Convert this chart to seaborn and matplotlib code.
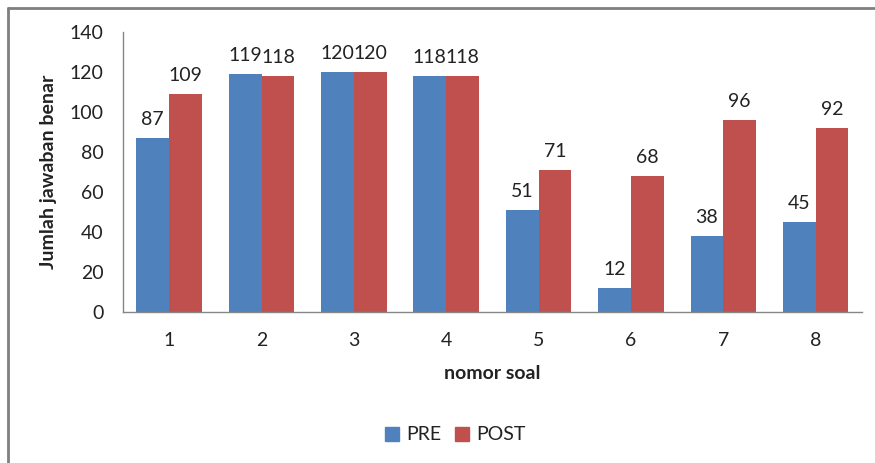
import matplotlib
matplotlib.use("Agg")
import matplotlib.pyplot as plt
import seaborn as sns
import pandas as pd
from matplotlib.lines import Line2D

soal = ["1", "2", "3", "4", "5", "6", "7", "8"]
pre = [87, 119, 120, 118, 51, 12, 38, 45]
post = [109, 118, 120, 118, 71, 68, 96, 92]
series = ["PRE", "POST"]
colors = ["#4F81BD", "#C0504D"]
y_ticks = [0, 20, 40, 60, 80, 100, 120, 140]

df = pd.DataFrame({
    "soal": soal * 2,
    "nilai": pre + post,
    "tes": [series[0]] * len(soal) + [series[1]] * len(soal),
})

sns.set_theme(style="white")
plt.rcParams["font.family"] = ["Lato", "DejaVu Sans"]
text_color = "#222222"
fs = 14

fig = plt.figure(figsize=(8.75, 4.63), dpi=100)
ax = fig.add_axes([0.1406, 0.326, 0.985 - 0.1406, 0.931 - 0.326])

sns.barplot(data=df, x="soal", y="nilai", hue="tes", order=soal,
            hue_order=series, palette=colors, width=0.71, saturation=1,
            linewidth=0, legend=False, ax=ax)

for cont in ax.containers:
    ax.bar_label(cont, fmt="%d", padding=7, fontsize=fs, color=text_color)

ax.set_ylim(0, 140)
ax.set_yticks(y_ticks)
ax.set_xlim(-0.5, len(soal) - 0.5)
ax.tick_params(axis="both", length=0, labelsize=fs, colors=text_color)
ax.tick_params(axis="y", pad=14)
ax.tick_params(axis="x", pad=14)

for side in ["top", "right"]:
    ax.spines[side].set_visible(False)
for side in ["left", "bottom"]:
    ax.spines[side].set_color("#868686")
    ax.spines[side].set_linewidth(1.0)

ax.set_ylabel("Jumlah jawaban benar", fontsize=fs, fontweight="bold",
              color=text_color, labelpad=9)
ax.set_xlabel("nomor soal", fontsize=fs, fontweight="bold",
              color=text_color, labelpad=12)

handles = [Line2D([0], [0], marker="s", linestyle="none", markersize=10,
                  markerfacecolor=c, markeredgecolor=c) for c in colors]
fig.legend(handles, series, loc="center", bbox_to_anchor=(455 / 875, 1 - 435 / 463),
           ncol=2, frameon=False, fontsize=fs, handlelength=0.8,
           handletextpad=0.3, columnspacing=0.7, labelcolor=text_color)

# outer frame lines along the top and left edges
fig.add_artist(Line2D([8 / 875, 1], [1 - 8 / 463, 1 - 8 / 463],
                      transform=fig.transFigure, color="#7f7f7f", lw=2))
fig.add_artist(Line2D([8 / 875, 8 / 875], [0, 1 - 8 / 463],
                      transform=fig.transFigure, color="#7f7f7f", lw=2))

fig.savefig("out.png", dpi=100, facecolor="white")
